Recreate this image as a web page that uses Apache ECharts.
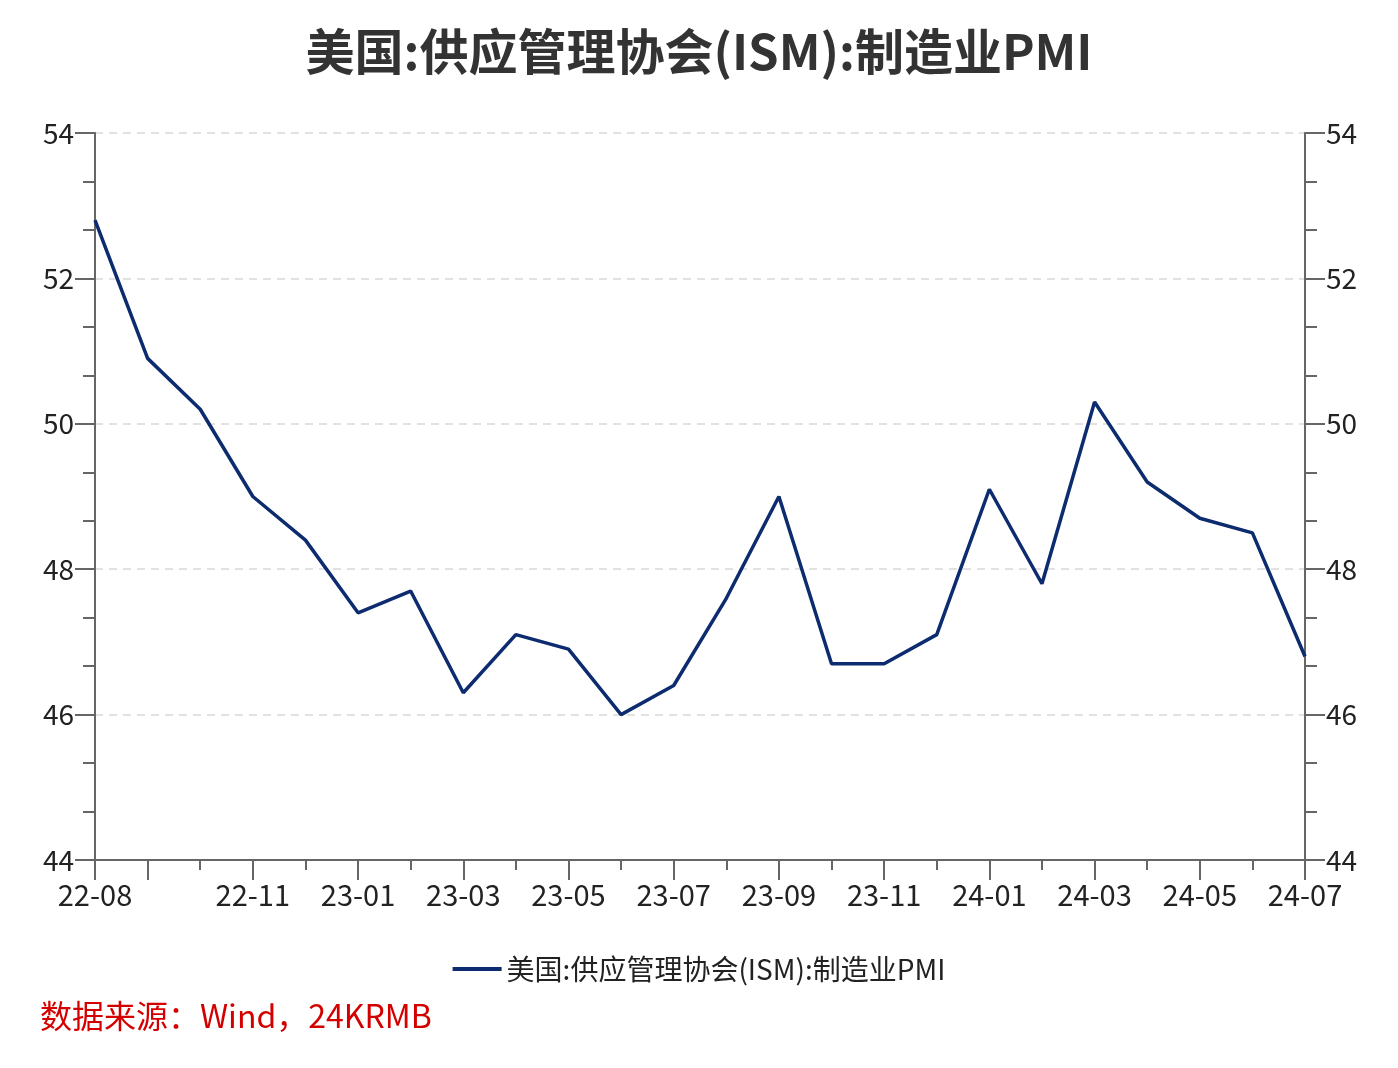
<!DOCTYPE html>
<html><head><meta charset="utf-8">
<script src="https://cdn.jsdelivr.net/npm/echarts@6/dist/echarts.min.js"></script>
<style>html,body{margin:0;padding:0;background:#fff}#c{width:1398px;height:1068px}</style>
</head><body><div id="c"></div>
<script>
const titleText = '美国:供应管理协会(ISM):制造业PMI';
const seriesName = '美国:供应管理协会(ISM):制造业PMI';
const sourceText = '数据来源：Wind，24KRMB';
const categories = ['22-08','22-09','22-10','22-11','22-12','23-01','23-02','23-03','23-04','23-05','23-06','23-07','23-08','23-09','23-10','23-11','23-12','24-01','24-02','24-03','24-04','24-05','24-06','24-07'];
const pmiValues = [52.8,50.9,50.2,49.0,48.4,47.4,47.7,46.3,47.1,46.9,46.0,46.4,47.6,49.0,46.7,46.7,47.1,49.1,47.8,50.3,49.2,48.7,48.5,46.8];
const yMin = 44, yMax = 54, yStep = 2;

const FONT = '"Noto Sans CJK SC", "Noto Sans", sans-serif';
const axisGray = '#666666';
const chart = echarts.init(document.getElementById('c'));
const yAxisCommon = {
  type: 'value', min: yMin, max: yMax, interval: yStep,
  axisLine: {show: true, lineStyle: {color: axisGray, width: 2}},
  axisTick: {show: true, length: 20, lineStyle: {color: axisGray, width: 2}},
  minorTick: {show: true, splitNumber: 3, length: 12, lineStyle: {color: axisGray, width: 2}},
  axisLabel: {color: '#222', fontSize: 28, fontFamily: FONT, margin: 21}
};
chart.setOption({
  animation: false,
  backgroundColor: '#fff',
  title: {text: titleText, left: 'center', top: 22,
    textStyle: {fontSize: 49, fontWeight: 'bold', color: '#333', fontFamily: FONT}},
  legend: {bottom: 80, left: 'center', itemWidth: 49, itemHeight: 4, itemGap: 10,
    icon: 'rect',
    textStyle: {fontSize: 28, color: '#222', fontFamily: FONT}},
  grid: {left: 95, right: 93, top: 133, bottom: 208},
  xAxis: [{
    type: 'category', data: categories, boundaryGap: false,
    axisLine: {show: true, lineStyle: {color: axisGray, width: 2}},
    axisTick: {show: true, length: 20, interval: (i) => i === 0 || i % 2 === 1, lineStyle: {color: axisGray, width: 2}},
    axisLabel: {interval: (i) => i === 0 || (i % 2 === 1 && i >= 3), color: '#222', fontSize: 29, fontFamily: FONT, margin: 20},
    splitLine: {show: false}
  }, {
    type: 'category', data: categories, boundaryGap: false, position: 'bottom',
    axisLine: {show: false},
    axisTick: {show: true, length: 10, interval: 0, lineStyle: {color: axisGray, width: 2}},
    axisLabel: {show: false}, splitLine: {show: false}
  }],
  yAxis: [
    Object.assign({}, yAxisCommon, {position: 'left',
      splitLine: {show: true, lineStyle: {color: '#d9d9d9', type: [8, 6], width: 1.5}}}),
    Object.assign({}, yAxisCommon, {position: 'right', splitLine: {show: false}})
  ],
  series: [{
    name: seriesName, type: 'line', data: pmiValues, showSymbol: false, symbol: 'none',
    xAxisIndex: 0, yAxisIndex: 0,
    lineStyle: {color: '#0d2b6f', width: 3.5}, itemStyle: {color: '#0d2b6f'}
  }],
  graphic: [{
    type: 'text', left: 40, top: 1000,
    style: {text: sourceText, fill: '#d40000', fontSize: 32, fontFamily: FONT}
  }]
});
</script></body></html>
